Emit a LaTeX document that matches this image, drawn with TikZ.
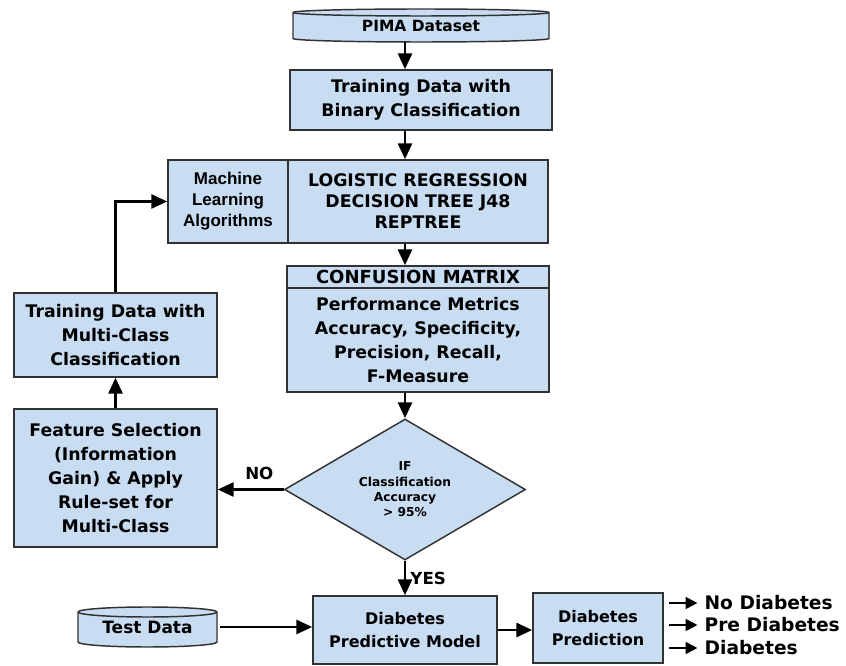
\documentclass[tikz,border=0pt]{standalone}
\usepackage{fontspec}
\setmainfont{DejaVu Sans}
\newfontfamily\arialbold{Liberation Sans}
\usetikzlibrary{arrows.meta,shapes.geometric,backgrounds}
\definecolor{boxblue}{RGB}{200,220,242}
\definecolor{boxline}{RGB}{50,50,50}

\begin{document}
\begin{tikzpicture}[x=0.75pt,y=0.75pt,
  box/.style={draw=boxline,line width=1.1pt,fill=boxblue,inner sep=0pt,align=center,
    font=\fontsize{13}{18}\selectfont\bfseries},
  disk/.style={inner sep=0pt,outer sep=0pt,align=center,font=\fontsize{12.75}{15}\selectfont\bfseries},
  decision/.style={diamond,draw=boxline,line width=1.1pt,fill=boxblue,inner sep=0pt,aspect=1.71,
    align=center,font=\fontsize{9.2}{11.5}\selectfont\bfseries},
  arr/.style={-{Triangle[length=12pt,width=10.5pt]},line width=2.2pt},
  lbl/.style={inner sep=1pt,font=\fontsize{12.5}{15}\selectfont\bfseries}]

\useasboundingbox (0,0) rectangle (846,-666);

%\draw[help lines,step=50] (0,0) grid (846,-666);

\node[disk,minimum width=192pt,minimum height=19.5pt,font=\fontsize{11.6}{14}\selectfont\bfseries] (pima) at (421,-25.5) {PIMA Dataset};
\node[box,minimum width=196.5pt,minimum height=45pt] (bin) at (421,-100) {Training Data with\\Binary Classification};

\node[box,minimum width=90pt,minimum height=62.25pt,font=\fontsize{12.75}{15.75}\selectfont\arialbold\bfseries] (ml) at (228,-201.5) {Machine\\Learning\\Algorithms};
\node[box,minimum width=195pt,minimum height=62.25pt,font=\fontsize{13}{15.75}\selectfont\bfseries] (alg) at (418,-201.5) {LOGISTIC REGRESSION\\DECISION TREE J48\\REPTREE};

\node[box,minimum width=196.5pt,minimum height=16.5pt,font=\fontsize{13.5}{16}\selectfont\bfseries] (conf) at (418,-277) {CONFUSION MATRIX};
\node[box,minimum width=196.5pt,minimum height=78pt] (metrics) at (418,-340) {Performance Metrics\\Accuracy, Specificity,\\Precision, Recall,\\F-Measure};

\node[decision,minimum width=180.75pt,minimum height=105.75pt] (dec) at (405,-489.5) {IF\\Classification\\Accuracy\\> 95\%};

\node[box,minimum width=152.25pt,minimum height=103.5pt] (feat) at (115.5,-478) {Feature Selection\\(Information\\Gain) \& Apply\\Rule-set for\\Multi-Class};
\node[box,minimum width=152.25pt,minimum height=63pt] (multi) at (115.5,-335) {Training Data with\\Multi-Class\\Classification};

\node[disk,minimum width=104.25pt,minimum height=22.5pt] (test) at (147.5,-627) {Test Data};
\node[box,minimum width=138pt,minimum height=51pt,font=\fontsize{12}{17}\selectfont\bfseries] (model) at (405,-630) {Diabetes\\Predictive Model};
\node[box,minimum width=97.5pt,minimum height=52.5pt,font=\fontsize{12}{17}\selectfont\bfseries] (pred) at (598,-628) {Diabetes\\Prediction};

\begin{scope}[on background layer]
\foreach \d/\rx/\ry in {pima/128/3.5, test/69.5/5}
 {
  \filldraw[draw=boxline,line width=1.1pt,fill=boxblue] (\d.north west) -- (\d.south west)
    arc[start angle=180,end angle=360,x radius=\rx,y radius=\ry] -- (\d.north east)
    arc[start angle=0,end angle=180,x radius=\rx,y radius=\ry] -- cycle;
  \draw[boxline,line width=1.1pt] (\d.north west) arc[start angle=180,end angle=360,x radius=\rx,y radius=\ry];
 }
\end{scope}

\coordinate (axis) at (405,0);

\draw[arr] ([yshift=-2.6pt]pima.south -| axis) -- (bin.north -| axis);
\draw[arr] (bin.south -| axis) -- (alg.north -| axis);
\draw[arr] (alg.south -| axis) -- (conf.north -| axis);
\draw[arr] (metrics.south -| axis) -- (dec.north);
\draw[arr] (dec.west) -- node[lbl,above=5pt,pos=0.37] {NO} (dec.west -| feat.east);
\draw[arr] (feat.north) -- (multi.south);
\draw[arr] (multi.north) |- (ml.west);
\draw[arr] (dec.south) -- node[lbl,right=2pt,pos=0.5] {YES} (model.north);
\draw[arr] ([xshift=2pt]test.east) -- (test.east -| model.west);
\draw[arr] (model.east) -- (model.east -| pred.west);

\foreach \name/\txt/\y in {nodiab/No Diabetes/603, prediab/Pre Diabetes/625, diab/Diabetes/648}
 {
  \node[lbl,anchor=west,font=\fontsize{14}{16}\selectfont\bfseries] (\name) at (703,-\y) {\txt};
  \draw[arr,-{Triangle[length=9pt,width=8.5pt]}] ([xshift=4pt]pred.east |- \name.west) -- ([xshift=-4pt]\name.west);
 }

\end{tikzpicture}
\end{document}
